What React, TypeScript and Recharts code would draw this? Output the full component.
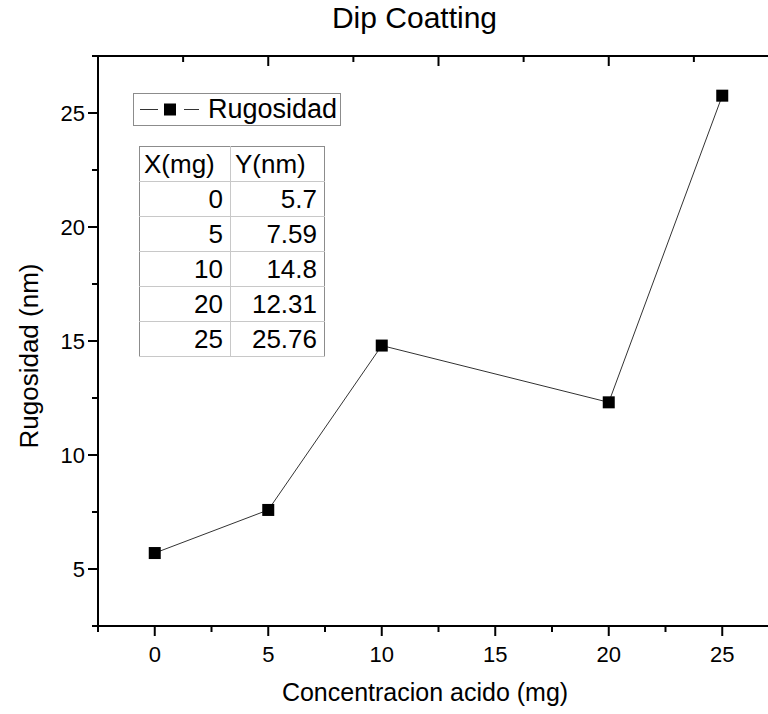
import React from 'react';
import { LineChart, Line, XAxis, YAxis } from 'recharts';

const xValues = [0, 5, 10, 20, 25];
const yValues = [5.7, 7.59, 14.8, 12.31, 25.76];
const tableX = ['0', '5', '10', '20', '25'];
const tableY = ['5.7', '7.59', '14.8', '12.31', '25.76'];
const bottomTicks = [-2.5, 0, 2.5, 5, 7.5, 10, 12.5, 15, 17.5, 20, 22.5, 25, 27.5];
const bottomMajor = [0, 5, 10, 15, 20, 25];
const leftTicks = [2.5, 5, 7.5, 10, 12.5, 15, 17.5, 20, 22.5, 25, 27.5];
const leftMajor = [5, 10, 15, 20, 25];
const topTicks = [0, 0.5, 1, 1.5, 2, 2.5, 3, 3.5, 4, 4.5, 5];
const topMajor = [0, 1, 2, 3, 4, 5];

const data = xValues.map((x, i) => ({ x, y: yValues[i] }));

const FONT = '"Liberation Sans", Arial, sans-serif';

const BottomTick = (props: any) => {
  const { x, y, payload } = props;
  const major = bottomMajor.includes(payload.value);
  return (
    <g>
      <line x1={x} x2={x} y1={y} y2={y + (major ? 10 : 6)} stroke="#000" strokeWidth={2} />
      {major && (
        <text x={x} y={y + 36} textAnchor="middle" fontSize={22} fontFamily={FONT} fill="#000">
          {payload.value}
        </text>
      )}
    </g>
  );
};

const LeftTick = (props: any) => {
  const { x, y, payload } = props;
  const major = leftMajor.includes(payload.value);
  return (
    <g>
      <line x1={x} x2={x - (major ? 10 : 6)} y1={y} y2={y} stroke="#000" strokeWidth={2} />
      {major && (
        <text x={x - 13} y={y + 8} textAnchor="end" fontSize={22} fontFamily={FONT} fill="#000">
          {payload.value}
        </text>
      )}
    </g>
  );
};

const TopTick = (props: any) => {
  const { x, y, payload } = props;
  const major = topMajor.includes(payload.value);
  return <line x1={x} x2={x} y1={y} y2={y + (major ? 10 : 6)} stroke="#000" strokeWidth={2} />;
};

const SquareDot = (props: any) => {
  const { cx, cy } = props;
  if (cx == null || cy == null) return null;
  return <rect x={cx - 6} y={cy - 6} width={12} height={12} fill="#000" />;
};

export default function App() {
  const cell: React.CSSProperties = {
    borderRight: '1px solid #c8c8c8',
    borderBottom: '1px solid #c8c8c8',
    padding: '0 7px 0 4px',
    height: 34,
    lineHeight: '34px',
    textAlign: 'right',
  };
  return (
    <div style={{ position: 'absolute', left: 0, top: 0, width: 768, height: 714, overflow: 'hidden', background: '#fff', fontFamily: FONT }}>
      <LineChart width={790} height={714} data={data} margin={{ top: 46, left: 38, right: 11, bottom: 48 }}>
        <XAxis
          xAxisId="b"
          dataKey="x"
          type="number"
          domain={[-2.5, 27.5]}
          ticks={bottomTicks}
          interval={0}
          height={40}
          tickSize={0}
          tickMargin={0}
          tickLine={false}
          axisLine={{ stroke: '#000', strokeWidth: 2 }}
          tick={<BottomTick />}
        />
        <XAxis
          xAxisId="t"
          orientation="top"
          type="number"
          domain={[0, 5]}
          ticks={topTicks}
          interval={0}
          height={10}
          tickSize={0}
          tickMargin={0}
          tickLine={false}
          axisLine={{ stroke: '#000', strokeWidth: 2 }}
          tick={<TopTick />}
        />
        <YAxis
          type="number"
          domain={[2.5, 27.5]}
          ticks={leftTicks}
          interval={0}
          width={60}
          tickSize={0}
          tickMargin={0}
          tickLine={false}
          axisLine={{ stroke: '#000', strokeWidth: 2 }}
          tick={<LeftTick />}
        />
        <Line
          xAxisId="b"
          dataKey="y"
          stroke="#333"
          strokeWidth={1}
          dot={<SquareDot />}
          activeDot={false}
          isAnimationActive={false}
        />
      </LineChart>

      <div style={{ position: 'absolute', left: 0, width: 829, top: 1, textAlign: 'center', fontSize: 30, color: '#000', whiteSpace: 'nowrap' }}>
        Dip Coatting
      </div>
      <div style={{ position: 'absolute', left: 0, width: 850, top: 678, textAlign: 'center', fontSize: 25, color: '#000', whiteSpace: 'nowrap' }}>
        Concentracion acido (mg)
      </div>
      <div
        style={{
          position: 'absolute',
          left: 29,
          top: 356,
          transform: 'translate(-50%, -50%) rotate(-90deg)',
          whiteSpace: 'nowrap',
          fontSize: 26,
          color: '#000',
        }}
      >
        Rugosidad (nm)
      </div>

      <div
        style={{
          position: 'absolute',
          left: 133,
          top: 93,
          width: 208,
          height: 33,
          border: '1px solid #8c8c8c',
          boxSizing: 'border-box',
          color: '#000',
        }}
      >
        <svg width={70} height={31} style={{ position: 'absolute', left: 4, top: 0 }}>
          <line x1={2} x2={20} y1={15.5} y2={15.5} stroke="#333" strokeWidth={1} />
          <rect x={26} y={9.5} width={12} height={12} fill="#000" />
          <line x1={46} x2={61} y1={15.5} y2={15.5} stroke="#333" strokeWidth={1} />
        </svg>
        <span style={{ position: 'absolute', left: 74, top: -1, fontSize: 27, lineHeight: '33px' }}>Rugosidad</span>
      </div>

      <table
        style={{
          position: 'absolute',
          left: 139,
          top: 146,
          width: 185,
          borderCollapse: 'collapse',
          fontSize: 26,
          color: '#000',
          border: '1px solid #8c8c8c',
          tableLayout: 'fixed',
        }}
      >
        <colgroup>
          <col style={{ width: 91 }} />
          <col style={{ width: 94 }} />
        </colgroup>
        <tbody>
          <tr>
            <td style={{ ...cell, textAlign: 'left' }}>X(mg)</td>
            <td style={{ ...cell, textAlign: 'left', borderRight: '1px solid #8c8c8c' }}>Y(nm)</td>
          </tr>
          {tableX.map((tx, i) => (
            <tr key={tx}>
              <td style={cell}>{tx}</td>
              <td style={{ ...cell, borderRight: '1px solid #8c8c8c' }}>{tableY[i]}</td>
            </tr>
          ))}
        </tbody>
      </table>
    </div>
  );
}
